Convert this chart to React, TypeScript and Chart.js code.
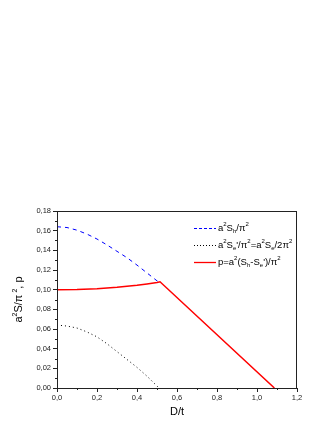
import React, { useEffect, useRef } from "react";
import { Chart, registerables } from "chart.js";
Chart.register(...registerables);

const xSh = [0, 0.05, 0.1, 0.15, 0.2, 0.25, 0.3, 0.35, 0.4, 0.45, 0.5, 0.51];
const ySh = [0.164, 0.1632, 0.1605, 0.1565, 0.1515, 0.1455, 0.139, 0.1325, 0.125, 0.117, 0.109, 0.108];

const xSe = [0, 0.05, 0.1, 0.15, 0.2, 0.25, 0.3, 0.35, 0.4, 0.45, 0.5, 0.51];
const ySe = [0.064, 0.063, 0.061, 0.057, 0.052, 0.045, 0.037, 0.029, 0.021, 0.012, 0.002, 0.0];

const xP = [0, 0.1, 0.2, 0.3, 0.4, 0.45, 0.5, 0.515, 1.087];
const yP = [0.1, 0.1002, 0.101, 0.1025, 0.1045, 0.1058, 0.1072, 0.108, 0.0];

const xTicks = [0, 0.2, 0.4, 0.6, 0.8, 1.0, 1.2];
const yTicks = [0, 0.02, 0.04, 0.06, 0.08, 0.1, 0.12, 0.14, 0.16, 0.18];

const FONT = "'Liberation Sans', Arial, sans-serif";

type Seg = { t: string; s: number; dy: number };

function drawRich(ctx: CanvasRenderingContext2D, segs: Seg[], x: number, y: number, align: "left" | "center") {
  let w = 0;
  for (const g of segs) {
    ctx.font = `${g.s}px ${FONT}`;
    w += ctx.measureText(g.t).width;
  }
  let cx = align === "center" ? x - w / 2 : x;
  ctx.textBaseline = "middle";
  ctx.textAlign = "left";
  for (const g of segs) {
    ctx.font = `${g.s}px ${FONT}`;
    ctx.fillText(g.t, cx, y + g.dy);
    cx += ctx.measureText(g.t).width;
  }
}

const B = 9.5;
const S = 6;
const UP = -4;
const DN = 3;

const decor = {
  id: "decor",
  afterDraw(chart: any) {
    const ctx = chart.ctx as CanvasRenderingContext2D;
    const { left, right, top, bottom } = chart.chartArea;
    const xs = chart.scales.x;
    const ys = chart.scales.y;
    ctx.save();
    // frame
    ctx.strokeStyle = "#222";
    ctx.lineWidth = 1;
    ctx.strokeRect(left + 0.5, top + 0.5, right - left - 1, bottom - top);
    // minor ticks
    ctx.beginPath();
    for (let i = 0; i < 12; i++) {
      const v = 0.1 + i * 0.2;
      if (v > 1.2) break;
      const px = Math.round(xs.getPixelForValue(v)) + 0.5;
      ctx.moveTo(px, bottom);
      ctx.lineTo(px, bottom + 2);
    }
    for (let i = 0; i < 9; i++) {
      const v = 0.01 + i * 0.02;
      const py = Math.round(ys.getPixelForValue(v)) + 0.5;
      ctx.moveTo(left, py);
      ctx.lineTo(left - 2, py);
    }
    ctx.stroke();

    ctx.fillStyle = "#000";
    // x title
    drawRich(ctx, [{ t: "D/t", s: 11, dy: 0 }], (left + right) / 2, 412, "center");
    // y title
    ctx.save();
    ctx.translate(19, (top + bottom) / 2);
    ctx.rotate(-Math.PI / 2);
    drawRich(
      ctx,
      [
        { t: "a", s: 11, dy: 0 },
        { t: "2", s: 7, dy: -4 },
        { t: "S/\u03c0", s: 11, dy: 0 },
        { t: " 2", s: 7, dy: -4 },
        { t: ", p", s: 11, dy: 0 },
      ],
      0,
      0,
      "center"
    );
    ctx.restore();

    // legend
    const rows: { color: string; dash: number[]; w: number; segs: Seg[] }[] = [
      {
        color: "#0000ff",
        dash: [3, 2],
        w: 1,
        segs: [
          { t: "a", s: B, dy: 0 },
          { t: "2", s: S, dy: UP },
          { t: "S", s: B, dy: 0 },
          { t: "h", s: S, dy: DN },
          { t: "/\u03c0", s: B, dy: 0 },
          { t: "2", s: S, dy: UP },
        ],
      },
      {
        color: "#000",
        dash: [1, 2],
        w: 1,
        segs: [
          { t: "a", s: B, dy: 0 },
          { t: "2", s: S, dy: UP },
          { t: "S", s: B, dy: 0 },
          { t: "e", s: S, dy: DN },
          { t: "'/\u03c0", s: B, dy: 0 },
          { t: "2", s: S, dy: UP },
          { t: "=a", s: B, dy: 0 },
          { t: "2", s: S, dy: UP },
          { t: "S", s: B, dy: 0 },
          { t: "e", s: S, dy: DN },
          { t: "/2\u03c0", s: B, dy: 0 },
          { t: "2", s: S, dy: UP },
        ],
      },
      {
        color: "#ff0000",
        dash: [],
        w: 1.3,
        segs: [
          { t: "p=a", s: B, dy: 0 },
          { t: "2", s: S, dy: UP },
          { t: "(S", s: B, dy: 0 },
          { t: "h", s: S, dy: DN },
          { t: "-S", s: B, dy: 0 },
          { t: "e", s: S, dy: DN },
          { t: "')/\u03c0", s: B, dy: 0 },
          { t: "2", s: S, dy: UP },
        ],
      },
    ];
    const ly = [228, 245, 262];
    rows.forEach((r, i) => {
      ctx.beginPath();
      ctx.setLineDash(r.dash);
      ctx.strokeStyle = r.color;
      ctx.lineWidth = r.w;
      ctx.moveTo(194, ly[i] + 0.5);
      ctx.lineTo(216, ly[i] + 0.5);
      ctx.stroke();
      ctx.setLineDash([]);
      ctx.fillStyle = "#000";
      drawRich(ctx, r.segs, 218, ly[i], "left");
    });
    ctx.restore();
  },
};

export default function App() {
  const ref = useRef<HTMLCanvasElement | null>(null);
  useEffect(() => {
    if (!ref.current) return;
    const chart = new Chart(ref.current, {
      type: "scatter",
      data: {
        datasets: [
          {
            label: "Sh",
            data: xSh.map((x, i) => ({ x, y: ySh[i] })),
            showLine: true,
            borderColor: "#0000ff",
            borderWidth: 1,
            borderDash: [4, 4],
            pointRadius: 0,
            tension: 0,
          },
          {
            label: "Se",
            data: xSe.map((x, i) => ({ x, y: ySe[i] })),
            showLine: true,
            borderColor: "#000",
            borderWidth: 1,
            borderDash: [1, 3],
            pointRadius: 0,
            tension: 0,
          },
          {
            label: "p",
            data: xP.map((x, i) => ({ x, y: yP[i] })),
            showLine: true,
            borderColor: "#ff0000",
            borderWidth: 1.5,
            pointRadius: 0,
            tension: 0,
          },
        ],
      },
      options: {
        responsive: false,
        animation: false,
        devicePixelRatio: 1,
        layout: { padding: { top: 211, right: 35, bottom: 0, left: 0 } },
        plugins: { legend: { display: false }, tooltip: { enabled: false } },
        scales: {
          x: {
            type: "linear",
            min: 0,
            max: 1.2,
            afterBuildTicks: (s: any) => {
              s.ticks = xTicks.map((v) => ({ value: v }));
            },
            afterFit: (s: any) => {
              s.height = 42;
            },
            ticks: {
              callback: (v: any) => Number(v).toFixed(1).replace(".", ","),
              font: { size: 7.5, family: FONT },
              color: "#222",
              padding: 1,
              maxRotation: 0,
            },
            grid: { drawOnChartArea: false, tickLength: 4, color: "#222", tickColor: "#222" },
            border: { display: true, color: "#222" },
          },
          y: {
            type: "linear",
            min: 0,
            max: 0.18,
            afterBuildTicks: (s: any) => {
              s.ticks = yTicks.map((v) => ({ value: v }));
            },
            afterFit: (s: any) => {
              s.width = 57;
            },
            ticks: {
              callback: (v: any) => Number(v).toFixed(2).replace(".", ","),
              font: { size: 7.5, family: FONT },
              color: "#222",
              padding: 2,
            },
            grid: { drawOnChartArea: false, tickLength: 4, color: "#222", tickColor: "#222" },
            border: { display: true, color: "#222" },
          },
        },
      },
      plugins: [decor],
    });
    return () => chart.destroy();
  }, []);
  return (
    <div style={{ position: "fixed", left: 0, top: 0, width: 332, height: 430, background: "#fff" }}>
      <canvas ref={ref} width={332} height={430} style={{ width: 332, height: 430 }} />
    </div>
  );
}
